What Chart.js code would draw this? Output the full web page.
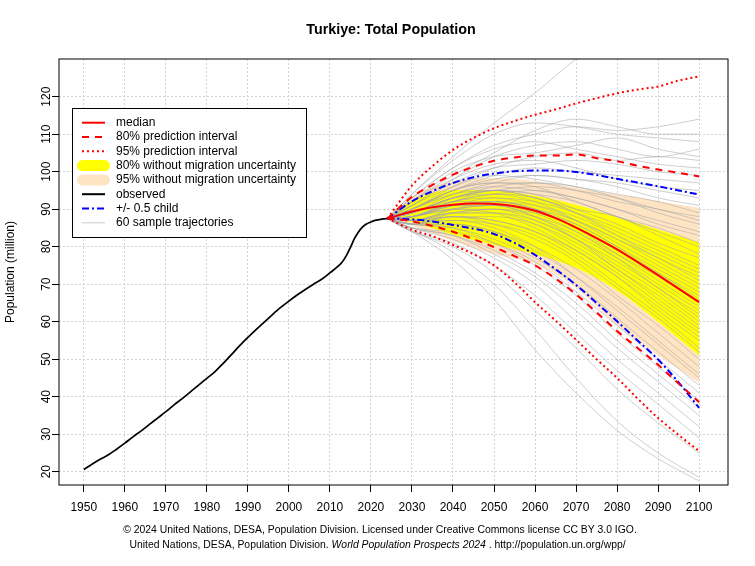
<!DOCTYPE html>
<html><head><meta charset="utf-8">
<script src="https://cdn.jsdelivr.net/npm/chart.js@4.4.1/dist/chart.umd.min.js"></script>
<style>html,body{margin:0;padding:0;background:#fff;}#wrap{width:755px;height:566px;}</style>
</head><body><div id="wrap"><canvas id="c" width="755" height="566"></canvas></div>
<script>
// ---------- DATA ----------
const chartTitle = 'Turkiye: Total Population';
const yAxisTitle = 'Population (million)';
const xTickValues = [1950,1960,1970,1980,1990,2000,2010,2020,2030,2040,2050,2060,2070,2080,2090,2100];
const yTickValues = [20,30,40,50,60,70,80,90,100,110,120];

const observedYears = [1950,1952,1954,1956,1958,1960,1962,1964,1966,1968,1970,1972,1974,1976,1978,1980,1982,1984,1986,1988,1990,1992,1994,1996,1998,2000,2002,2004,2006,2008,2010,2012,2013,2014,2015,2016,2017,2018,2019,2020,2021,2022,2023,2024];
const observedPop   = [20.6,22.0,23.3,24.5,26.0,27.6,29.3,30.9,32.6,34.3,36.0,37.8,39.5,41.3,43.1,44.9,46.7,48.9,51.2,53.6,55.8,57.9,59.9,61.9,63.8,65.5,67.1,68.6,70.0,71.3,73.0,74.8,75.9,77.6,79.8,82.2,84.0,85.3,86.1,86.6,87.0,87.2,87.4,87.5];

const projYears      = [2024,2030,2035,2040,2045,2050,2055,2060,2065,2070,2075,2080,2085,2090,2095,2100];
const median         = [87.5,89.4,90.5,91.2,91.5,91.4,90.8,89.6,87.6,85.1,82.3,79.3,75.9,72.4,68.8,65.2];
const pi80Upper      = [87.5,93.3,96.5,99.2,101.3,102.9,103.8,104.3,104.3,104.6,103.6,102.8,101.6,100.6,99.7,98.7];
const pi80Lower      = [87.5,86.8,85.5,84.0,82.0,79.9,77.5,75.0,71.5,67.3,62.5,57.5,53.0,48.5,43.5,38.5];
const pi95Upper      = [87.5,96.3,101.5,105.8,109.0,111.6,113.5,115.2,116.6,118.2,119.6,120.9,121.9,122.7,124.3,125.4];
const pi95Lower      = [87.5,84.5,82.8,80.5,78.0,75.0,70.5,65.2,60.3,55.2,50.0,45.0,39.5,34.3,29.8,25.5];
const halfChildUpper = [87.5,92.1,94.8,97.0,98.5,99.5,100.1,100.3,100.3,99.9,99.1,98.1,97.1,96.1,95.0,93.9];
const halfChildLower = [87.5,87.3,86.7,85.8,84.8,83.4,81.0,77.8,74.0,69.8,65.0,60.1,55.0,49.9,43.8,37.0];

const bandYears    = [2024,2030,2040,2050,2060,2070,2080,2090,2100];
const noMig80Upper = [87.5,92.3,95.1,94.9,93.6,91.2,87.9,84.6,81.1];
const noMig80Lower = [87.5,86.5,83.2,80.5,78.0,74.3,68.3,60.0,51.0];
const noMig95Upper = [87.5,93.5,97.4,98.3,97.5,95.7,93.9,92.2,90.3];
const noMig95Lower = [87.5,85.6,81.5,78.0,75.5,69.0,59.0,51.0,43.7];

const trajYears = [2024,2030,2040,2050,2060,2070,2080,2090,2100];
const sampleTrajectories = [
 [87.5,94,104,113,121,130,137,143,148],
 [87.5,93,101,107,110,112,111,112,114],
 [87.5,92,99,105,111,114,112,110,110],
 [87.5,94,103,110,113,112,110,109,108],
 [87.5,91,98,104,107,108,106,104,106],
 [87.5,92,100,104,105,107,109,106,104],
 [87.5,90,96,101,104,105,103,104,103],
 [87.5,93,101,106,108,106,104,102,101],
 [87.5,91,97,101,102,103,102,100,99],
 [87.5,90,95,99,101,100,99,98,97],
 [87.5,92,98,102,103,101,98,96,95],
 [87.5,90,95,98,99,98,97,95,93],
 [87.5,89,94,97,99,98,96,93,91],
 [87.5,91,96,99,98,96,94,92,89],
 [87.5,89,93,95,96,95,93,90,88],
 [87.5,90,95,97,97,95,92,90,87],
 [87.5,89,93,96,97,96,93,89,86],
 [87.5,90,94,96,95,93,90,87,84],
 [87.5,88,92,94,95,93,90,86,83],
 [87.5,89,93,95,94,92,88,85,81],
 [87.5,90,95,97,96,92,88,84,80],
 [87.5,88,92,95,93,90,88,83,78],
 [87.5,89,93,95,94,90,86,81,77],
 [87.5,88,92,93,92,89,85,80,75],
 [87.5,90,94,95,93,89,84,79,74],
 [87.5,88,91,92,91,88,83,78,73],
 [87.5,89,92,94,93,89,83,77,72],
 [87.5,88,91,93,91,87,82,77,71],
 [87.5,87,90,91,90,87,82,76,70],
 [87.5,89,93,94,92,87,81,75,69],
 [87.5,88,91,92,90,86,80,74,68],
 [87.5,87,89,90,89,86,80,73,67],
 [87.5,89,92,92,90,85,79,73,66],
 [87.5,88,90,91,89,84,78,72,65],
 [87.5,87,90,92,90,85,78,71,64],
 [87.5,88,91,91,88,83,77,70,63],
 [87.5,86,89,90,88,84,77,69,62],
 [87.5,88,90,90,87,82,76,69,61],
 [87.5,87,89,89,87,82,75,68,60],
 [87.5,88,91,91,88,82,74,67,59],
 [87.5,86,88,88,86,81,74,66,58],
 [87.5,87,89,89,86,80,73,65,57],
 [87.5,88,90,89,85,79,72,64,56],
 [87.5,86,88,87,84,79,72,63,55],
 [87.5,87,88,87,84,78,70,62,53],
 [87.5,86,87,86,83,77,69,61,52],
 [87.5,87,88,86,82,76,67,59,50],
 [87.5,86,86,84,80,74,66,57,48],
 [87.5,86,86,84,79,72,64,55,46],
 [87.5,87,87,85,80,72,63,54,45],
 [87.5,86,85,82,77,70,61,52,43],
 [87.5,85,84,81,76,68,59,50,41],
 [87.5,86,85,81,75,67,57,48,39],
 [87.5,85,83,79,73,65,55,46,37],
 [87.5,85,83,78,72,63,53,44,35],
 [87.5,85,82,77,70,60,50,41,32],
 [87.5,84,81,75,67,57,47,38,29],
 [87.5,84,80,73,63,53,42,33,25],
 [87.5,84.5,78.5,70,58,45,33.5,25,18.5],
 [87.5,84,76.5,66,52.5,41,31,23.5,17.5]
];

const legendLabels = ['median','80% prediction interval','95% prediction interval','80% without migration uncertainty','95% without migration uncertainty','observed','+/- 0.5 child','60 sample trajectories'];
const footerLine1 = '\u00A9 2024 United Nations, DESA, Population Division. Licensed under Creative Commons license CC BY 3.0 IGO.';
const footerLine2 = ['United Nations, DESA, Population Division. ', 'World Population Prospects 2024', ' . http://population.un.org/wpp/'];

// ---------- STYLES ----------
const FONT = "'Liberation Sans', Arimo, Arial, sans-serif";
const RED = '#FF0000', BLUE = '#0000FF', YELLOW = '#FFFF00', BISQUE = '#FFE4C4';
const GRAY_TRAJ = 'rgba(165,165,165,0.55)';
const DASH80 = [7,6], DOT95 = [2,3], DASHDOT = [7,3,2,3];

const pts = (xs, ys) => xs.map((x, i) => ({x, y: ys[i]}));
const lineDs = (label, xs, ys, color, width, dash, order) => ({
  label, data: pts(xs, ys), borderColor: color, borderWidth: width, borderDash: dash,
  pointRadius: 0, fill: false, cubicInterpolationMode: 'monotone', order
});

const datasets = [];
datasets.push({label:'95nm-up', data: pts(bandYears, noMig95Upper), borderWidth:0, borderColor:'rgba(0,0,0,0)', backgroundColor:BISQUE, pointRadius:0, fill:'+1', cubicInterpolationMode:'monotone', order:20});
datasets.push({label:'95nm-lo', data: pts(bandYears, noMig95Lower), borderWidth:0, borderColor:'rgba(0,0,0,0)', pointRadius:0, fill:false, cubicInterpolationMode:'monotone', order:20});
datasets.push({label:'80nm-up', data: pts(bandYears, noMig80Upper), borderWidth:0, borderColor:'rgba(0,0,0,0)', backgroundColor:YELLOW, pointRadius:0, fill:'+1', cubicInterpolationMode:'monotone', order:19});
datasets.push({label:'80nm-lo', data: pts(bandYears, noMig80Lower), borderWidth:0, borderColor:'rgba(0,0,0,0)', pointRadius:0, fill:false, cubicInterpolationMode:'monotone', order:19});
sampleTrajectories.forEach((t, i) => datasets.push(lineDs('traj'+i, trajYears, t, GRAY_TRAJ, 1, [], 10)));
datasets.push(lineDs('95u', projYears, pi95Upper, RED, 2, DOT95, 5));
datasets.push(lineDs('95l', projYears, pi95Lower, RED, 2, DOT95, 5));
datasets.push(lineDs('hcu', projYears, halfChildUpper, BLUE, 2, DASHDOT, 4));
datasets.push(lineDs('hcl', projYears, halfChildLower, BLUE, 2, DASHDOT, 4));
datasets.push(lineDs('80u', projYears, pi80Upper, RED, 2, DASH80, 3));
datasets.push(lineDs('80l', projYears, pi80Lower, RED, 2, DASH80, 3));
datasets.push(lineDs('obs', observedYears, observedPop, '#000000', 1.7, [], 2));
datasets.push(lineDs('median', projYears, median, RED, 2, [], 1));

const legendStyles = [
  {color:RED, width:2, dash:[]},
  {color:RED, width:2, dash:DASH80},
  {color:RED, width:2, dash:DOT95},
  {color:YELLOW, width:11, dash:[], cap:'round'},
  {color:BISQUE, width:11, dash:[], cap:'round'},
  {color:'#000', width:2, dash:[]},
  {color:BLUE, width:2, dash:DASHDOT},
  {color:'#cccccc', width:1, dash:[]}
];

const decor = {
  id: 'decor',
  afterDatasetsDraw(chart) {
    const {ctx, chartArea: a} = chart;
    ctx.save();
    ctx.setLineDash([]);
    ctx.strokeStyle = '#000'; ctx.lineWidth = 1;
    ctx.strokeRect(a.left, a.top, a.right - a.left, a.bottom - a.top);
    // legend
    const bx = 72.5, by = 108.5, bw = 234, bh = 129;
    ctx.fillStyle = '#fff'; ctx.fillRect(bx, by, bw, bh);
    ctx.strokeStyle = '#000'; ctx.lineWidth = 1; ctx.strokeRect(bx, by, bw, bh);
    ctx.font = '12px ' + FONT; ctx.textBaseline = 'middle'; ctx.textAlign = 'left';
    legendLabels.forEach((lab, i) => {
      const y = 122.7 + i * 14.3;
      const s = legendStyles[i];
      ctx.beginPath();
      ctx.setLineDash(s.dash); ctx.lineCap = s.cap || 'butt';
      ctx.strokeStyle = s.color; ctx.lineWidth = s.width;
      ctx.moveTo(s.cap ? 82.5 : 82, y); ctx.lineTo(s.cap ? 104.5 : 105, y); ctx.stroke();
      ctx.setLineDash([]);
      ctx.fillStyle = '#000'; ctx.fillText(lab, 116, y);
    });
    ctx.restore();
  },
  afterDraw(chart) {
    const {ctx} = chart;
    ctx.save();
    ctx.fillStyle = '#000'; ctx.textBaseline = 'middle';
    ctx.font = 'bold 14.3px ' + FONT; ctx.textAlign = 'center';
    ctx.fillText(chartTitle, 391, 30);
    const fN = '10.4px ' + FONT, fI = 'italic 10.4px ' + FONT;
    ctx.font = fN;
    ctx.fillText(footerLine1, 380, 530);
    ctx.textAlign = 'left';
    const w0 = ctx.measureText(footerLine2[0]).width, w2 = ctx.measureText(footerLine2[2]).width;
    ctx.font = fI; const w1 = ctx.measureText(footerLine2[1]).width;
    let x = 377.5 - (w0 + w1 + w2) / 2;
    ctx.font = fN; ctx.fillText(footerLine2[0], x, 545); x += w0;
    ctx.font = fI; ctx.fillText(footerLine2[1], x, 545); x += w1;
    ctx.font = fN; ctx.fillText(footerLine2[2], x, 545);
    ctx.restore();
  }
};

Chart.defaults.font.family = FONT;
Chart.defaults.color = '#000';

new Chart(document.getElementById('c'), {
  type: 'line',
  data: { datasets },
  plugins: [decor],
  options: {
    responsive: false, animation: false, events: [],
    layout: { padding: { left: 0, right: 27, top: 59, bottom: 41 } },
    plugins: { legend: { display: false }, title: { display: false }, tooltip: { enabled: false } },
    scales: {
      x: {
        type: 'linear', min: 1943.96, max: 2107.04,
        afterBuildTicks: s => { s.ticks = xTickValues.map(v => ({value: v})); },
        afterFit: s => { s.height = 40; },
        ticks: { autoSkip: false, minRotation: 0, maxRotation: 0, padding: 8, color: '#000', font: {size: 12}, callback: v => String(v) },
        grid: { color: '#d3d3d3', lineWidth: 1, drawTicks: true, tickLength: 7, tickColor: '#000', tickWidth: 1, tickBorderDash: [] },
        border: { display: false, dash: [2, 2] }
      },
      y: {
        type: 'linear', min: 16.45, max: 130.05,
        afterBuildTicks: s => { s.ticks = yTickValues.map(v => ({value: v})); },
        afterFit: s => { s.width = 59; },
        ticks: { autoSkip: false, minRotation: 90, maxRotation: 90, crossAlign: 'center', padding: -5, color: '#000', font: {size: 12}, callback: v => String(v) },
        grid: { color: '#d3d3d3', lineWidth: 1, drawTicks: true, tickLength: 7, tickColor: '#000', tickWidth: 1, tickBorderDash: [] },
        border: { display: false, dash: [2, 2] },
        title: { display: true, text: yAxisTitle, color: '#000', font: {size: 12}, padding: {top: 3, bottom: 0} }
      }
    }
  }
});
</script></body></html>
